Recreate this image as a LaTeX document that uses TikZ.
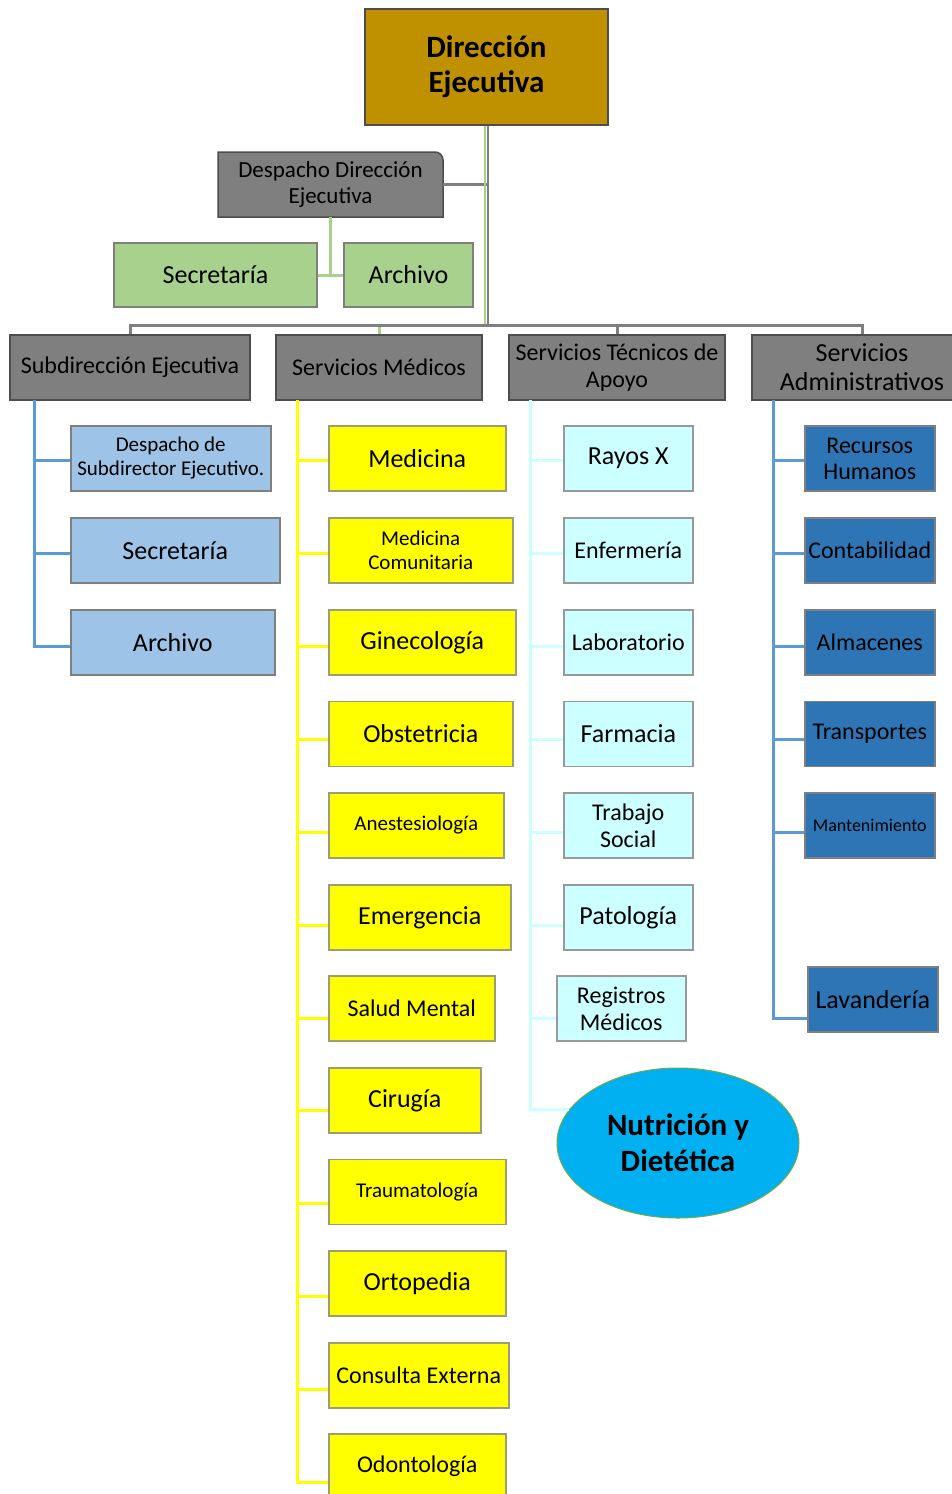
\documentclass[tikz,border=0pt]{standalone}
\usepackage{fontspec}
\setmainfont{Carlito}
\usetikzlibrary{shapes.geometric}
\definecolor{oro}{HTML}{BF9000}
\definecolor{gris}{HTML}{7F7F7F}
\definecolor{grisosc}{HTML}{4D4D4D}
\definecolor{verde}{HTML}{A9D18E}
\definecolor{celeste}{HTML}{9DC3E6}
\definecolor{amarillo}{HTML}{FFFF00}
\definecolor{olivo}{HTML}{9C9C78}
\definecolor{cian}{HTML}{CCFFFF}
\definecolor{azul}{HTML}{2E75B6}
\definecolor{azull}{HTML}{5B9BD5}
\definecolor{turquesa}{HTML}{00B0F0}
\definecolor{verdeb}{HTML}{70AD47}
\newcommand{\tam}[2]{\fontsize{#1}{#2}\selectfont}
\begin{document}
\begin{tikzpicture}[x=1pt,y=-1pt,
    caja/.style={rectangle,draw=gris,line width=1.5pt,inner sep=0pt,minimum height=65,align=center,text=black},
    linea/.style={line width=3pt}]
    \useasboundingbox (0,0) rectangle (952,1494);
    \node[caja,fill=oro,draw=grisosc,minimum width=243,minimum height=116,font=\tam{31}{35}\bfseries] at (486.5,67)(dir){Dirección\\Ejecutiva};
    \path[draw=grisosc,fill=gris,line width=1.5pt] (218,217) -- (218,152) -- (435,152) to[out=0,in=90] (443,160) -- (443,217) -- cycle;
    \node[minimum width=225,minimum height=65,align=center,font=\tam{23}{26}] at (330.5,184.5)(dde){Despacho Dirección\\Ejecutiva};
    \node[caja,fill=verde,minimum width=203,minimum height=64,font=\tam{26}{30}] at (215.5,275)(sv){Secretaría};
    \node[caja,fill=verde,minimum width=129,minimum height=64,font=\tam{26}{30}] at (408.5,275)(av){Archivo};
    \path[draw,verde,linea] (dde.south) |- (sv.east) -- (av.west);
    \path[draw,gris,linea] (dde.east) -- (dde.east -| dir.south);
    \coordinate (bus) at (488.5,325);
    \path[draw,verde,line width=2.5pt] ([xshift=-1.5]dir.south) -- ([xshift=-1.5]dir.south |- bus);
    \path[draw,gris,line width=2.5pt] ([xshift=1.5]dir.south) -- ([xshift=1.5]dir.south |- bus);
    \foreach \n/\t/\x/\w/\f/\b in {se/Subdirección Ejecutiva/130/240/24/27, sm/Servicios Médicos/379/206/24/28, sta/{Servicios Técnicos de\\Apoyo}/617/216/24/27, sa/{Servicios\\Administrativos}/862/220/26/29}{
        \node[caja,fill=gris,draw=grisosc,minimum width=\w,font=\tam{\f}{\b}] at (\x,367.5)(\n){\t};
    }
    \path[draw,verde,linea] (bus) -| (sm.north);
    \path[draw,gris,linea] (se.north) |- (bus) -| (sa.north);
    \path[draw,gris,linea] (bus) -| (sta.north);
    \coordinate (sex) at (34,400);
    \coordinate (smx) at (297,400);
    \coordinate (stx) at (530,400);
    \coordinate (sax) at (773,400);
    \foreach \i/\t/\w/\y/\o/\f/\b in {1/{Despacho de\\Subdirector Ejecutivo.}/200/458.5/1.5/21/24, 2/Secretaría/209/550.5/2.5/26/30, 3/Archivo/204/642.5/3.5/26/30}{
        \node[caja,fill=celeste,minimum width=\w,anchor=west,font=\tam{\f}{\b}] at (70,\y)(s\i){\t};
        \path[draw,azull,linea] (sex) |- ([yshift=-\o]s\i.west);
    }
    \foreach \i/\t/\w/\y/\o/\f/\b in {1/Medicina/177/458.5/1.5/26/30, 2/{Medicina\\Comunitaria}/184/550.5/2.5/21/24, 3/Ginecología/187/642.5/3.5/26/30, 4/Obstetricia/184/734/5/26/30, 5/Anestesiología/175/825.5/6.5/21/25, 6/Emergencia/182/917.5/7.5/26/30, 7/Salud Mental/166/1008.5/9.5/24/28, 8/Cirugía/152/1100.5/9.5/26/30, 9/Traumatología/177/1192/11/21/25, 10/Ortopedia/177/1283.5/12.5/26/30, 11/Consulta Externa/180/1375.5/13.5/24/28, 12/Odontología/177/1466.5/15.5/24/28}{
        \node[caja,fill=amarillo,draw=olivo,minimum width=\w,anchor=west,font=\tam{\f}{\b}] at (328,\y)(m\i){\t};
        \path[draw,amarillo,linea] (smx) |- ([yshift=-\o]m\i.west);
    }
    \foreach \i/\t/\x/\y/\o/\f/\b in {1/Rayos X/563/458.5/1.5/26/30, 2/Enfermería/563/550.5/2.5/24/28, 3/Laboratorio/563/642.5/3.5/24/28, 4/Farmacia/563/734/5/26/30, 5/{Trabajo\\Social}/563/825.5/6.5/24/27, 6/Patología/563/917.5/7.5/26/30, 7/{Registros\\Médicos}/556/1008.5/9.5/24/27}{
        \node[caja,fill=cian,draw=gris!80,minimum width=129,anchor=west,font=\tam{\f}{\b}] at (\x,\y)(t\i){\t};
        \path[draw,cian,linea] (stx) |- ([yshift=-\o]t\i.west);
    }
    \node[ellipse,fill=turquesa,draw=verdeb,line width=1pt,minimum width=242,minimum height=150,align=center,font=\tam{31}{36}\bfseries] at (678,1143)(nut){Nutrición y\\Dietética};
    \path[draw,cian,linea] (stx) |- (nut.163);
    \foreach \i/\t/\x/\y/\o/\f/\b in {1/{Recursos\\Humanos}/804/458.5/1.5/24/26, 2/Contabilidad/804/550.5/2.5/24/28, 3/Almacenes/804/642.5/3.5/24/28, 4/Transportes/804/734/5/24/28, 5/Mantenimiento/804/825.5/6.5/18/22, 6/Lavandería/807/999.5/18.5/26/30}{
        \node[caja,fill=azul,minimum width=130,anchor=west,font=\tam{\f}{\b}] at (\x,\y)(a\i){\t};
        \path[draw,azull,linea] (sax) |- ([yshift=-\o]a\i.west);
    }
\end{tikzpicture}
\end{document}
